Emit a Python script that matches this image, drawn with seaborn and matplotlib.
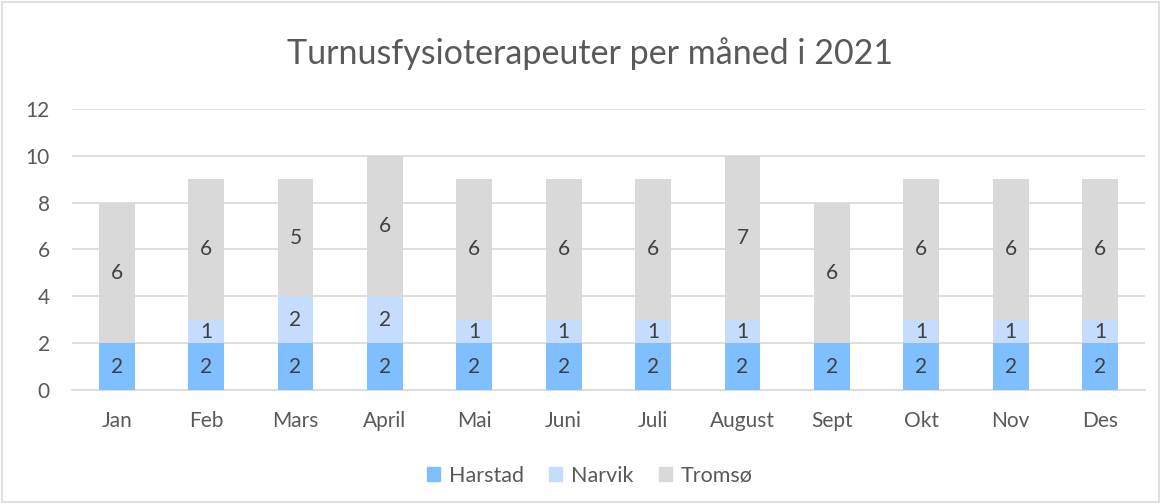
import matplotlib
matplotlib.use("Agg")
import matplotlib.pyplot as plt
import seaborn as sns
import numpy as np
import pandas as pd
from matplotlib.patches import Rectangle

months = ["Jan", "Feb", "Mars", "April", "Mai", "Juni", "Juli", "August", "Sept", "Okt", "Nov", "Des"]
harstad = [2, 2, 2, 2, 2, 2, 2, 2, 2, 2, 2, 2]
narvik = [0, 1, 2, 2, 1, 1, 1, 1, 0, 1, 1, 1]
tromso = [6, 6, 5, 6, 6, 6, 6, 7, 6, 6, 6, 6]
series_names = ["Harstad", "Narvik", "Tromsø"]
colors = ["#80bfff", "#c5dcfc", "#d9d9d9"]
title = "Turnusfysioterapeuter per måned i 2021"

sns.set_theme(style="white")
plt.rcParams['font.family'] = ['Lato', 'DejaVu Sans']
text_color = "#595959"

fig = plt.figure(figsize=(11.61, 5.04), dpi=100)
ax = fig.add_axes([0.062, 0.226, 0.924, 0.558])

df = pd.DataFrame({"month": months, "Harstad": harstad, "Narvik": narvik, "Tromsø": tromso})
bottom = np.zeros(len(months))
for name, col in zip(series_names, colors):
    vals = np.array(df[name], dtype=float)
    sns.barplot(x=df["month"], y=vals, bottom=bottom, color=col, width=0.40,
                ax=ax, saturation=1, linewidth=0, zorder=3)
    cont = ax.containers[-1]
    labels = [str(int(v)) if v > 0 else "" for v in vals]
    ax.bar_label(cont, labels=labels, label_type="center", fontsize=15, color="#404040")
    bottom = bottom + vals

if ax.get_legend() is not None:
    ax.get_legend().remove()

ax.set_ylim(0, 12)
ax.set_yticks(range(0, 13, 2))
ax.set_xlim(-0.5, len(months) - 0.5)
ax.yaxis.grid(True, color="#d9d9d9", linewidth=1.2, zorder=0)
ax.set_axisbelow(True)
for s in ["top", "right", "left"]:
    ax.spines[s].set_visible(False)
ax.spines["bottom"].set_color("#d9d9d9")
ax.spines["bottom"].set_linewidth(1.2)
ax.tick_params(axis="both", length=0, labelsize=15, colors=text_color)
ax.tick_params(axis="x", pad=15)
ax.tick_params(axis="y", pad=16)
ax.set_xlabel("")
ax.set_ylabel("")

fig.text(0.508, 0.893, title, ha="center", va="center", fontsize=24.5, color=text_color)

handles = [Rectangle((0, 0), 1, 1, color=c) for c in colors]
leg = fig.legend(handles, series_names, loc="center", bbox_to_anchor=(0.508, 0.056), ncol=3,
                 frameon=False, fontsize=15.5, handlelength=0.6, handleheight=0.6,
                 columnspacing=1.2, handletextpad=0.4, labelcolor=text_color)

fig.patches.append(Rectangle((0.002, 0.004), 0.996, 0.992, transform=fig.transFigure,
                             fill=False, edgecolor="#d9d9d9", linewidth=1.2))

fig.savefig("out.png", dpi=100, facecolor="white")
